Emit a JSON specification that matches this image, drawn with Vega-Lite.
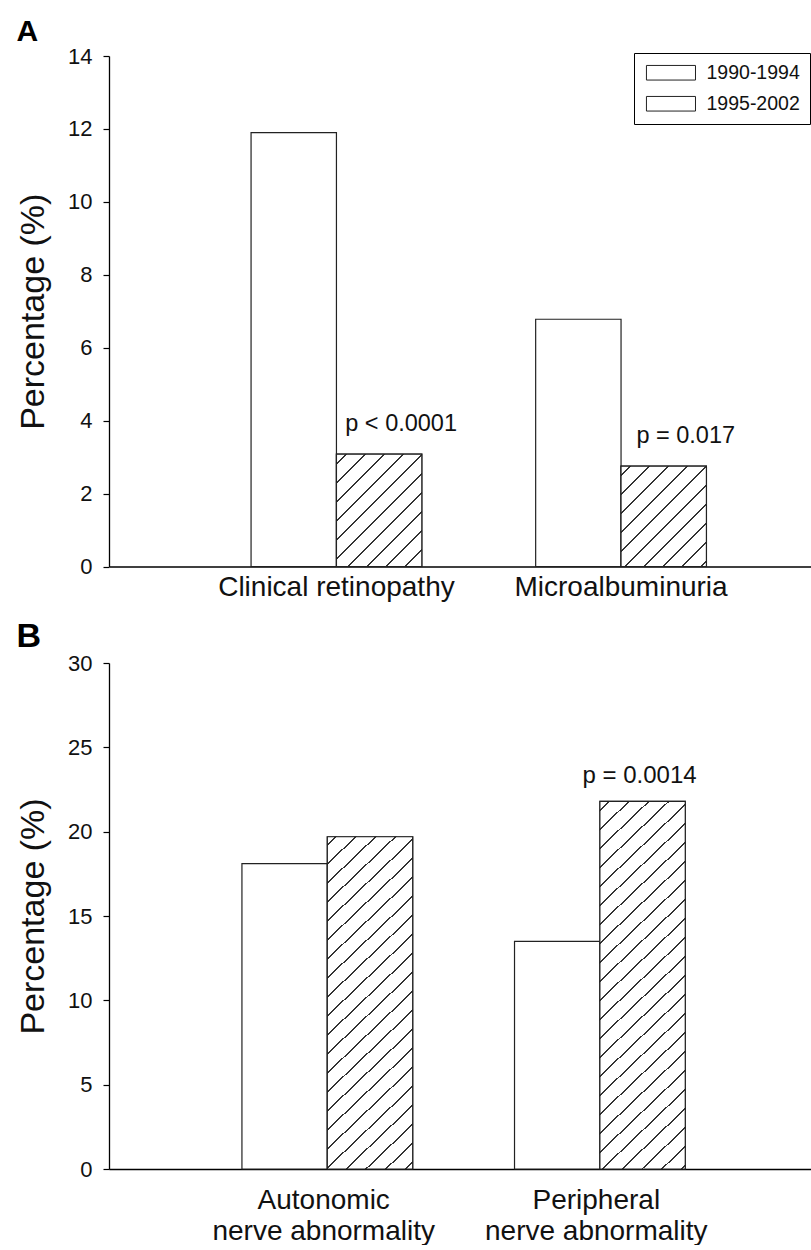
{
  "$schema": "https://vega.github.io/schema/vega-lite/v6.json",
  "padding": {"left": 16, "top": 17, "right": 0, "bottom": 0},
  "background": "white",
  "spacing": 18,
  "config": {"view": {"stroke": null}, "font": "Liberation Sans"},
  "datasets": {
    "a": [
      {"group": "Clinical retinopathy", "period": "1990-1994", "value": 11.9},
      {"group": "Clinical retinopathy", "period": "1995-2002", "value": 3.08, "p": "p < 0.0001"},
      {"group": "Microalbuminuria", "period": "1990-1994", "value": 6.78},
      {"group": "Microalbuminuria", "period": "1995-2002", "value": 2.75, "p": "p = 0.017"}
    ],
    "b": [
      {"group": "Autonomic nerve abnormality", "period": "1990-1994", "value": 18.1},
      {"group": "Autonomic nerve abnormality", "period": "1995-2002", "value": 19.7},
      {"group": "Peripheral nerve abnormality", "period": "1990-1994", "value": 13.5},
      {"group": "Peripheral nerve abnormality", "period": "1995-2002", "value": 21.8, "p": "p = 0.0014"}
    ]
  },
  "vconcat": [
    {
      "data": {"name": "a"},
      "width": 702,
      "height": 510.5,
      "title": {"text": "A", "anchor": "start", "frame": "bounds", "fontSize": 30, "fontWeight": "bold", "offset": -2, "color": "black"},
      "encoding": {
        "x": {"field": "group", "type": "nominal", "scale": {"paddingInner": 0.4, "paddingOuter": 0.4333, "align": 0.576},
          "axis": {"title": null, "ticks": false, "tickSize": 0, "labelAngle": 0, "labelFontSize": 28, "labelPadding": 7, "labelLimit": 0, "domainColor": "black", "domainWidth": 1.3, "labelColor": "#111"}},
        "xOffset": {"field": "period", "type": "nominal", "scale": {"paddingInner": 0, "paddingOuter": 0}},
        "y": {"field": "value", "type": "quantitative", "scale": {"domain": [0, 14], "nice": false},
          "axis": {"title": "Percentage (%)", "values": [0, 2, 4, 6, 8, 10, 12, 14], "grid": false, "tickSize": 6, "tickWidth": 1.2, "tickColor": "black", "domainColor": "black", "domainWidth": 1.3, "labelFontSize": 22, "labelPadding": 11, "labelColor": "#111", "titleFontSize": 34, "titleFontWeight": "normal", "titlePadding": 17, "titleColor": "#111"}}
      },
      "layer": [
        {
          "mark": {"type": "bar", "stroke": "#222", "strokeWidth": 1.2},
          "encoding": {
            "fill": {"field": "period", "type": "nominal", "scale": {"domain": ["1990-1994", "1995-2002"], "range": ["white", "white"]},
              "legend": {"title": null, "orient": "none", "legendX": 525, "legendY": -3, "direction": "vertical", "strokeColor": "black", "fillColor": "white", "padding": 10,
                "symbolType": "M-1,-1H5.72V1H-1Z", "symbolSize": 213, "symbolStrokeColor": "#222", "symbolStrokeWidth": 1, "labelFontSize": 19.5, "labelOffset": 43, "rowPadding": 10, "labelColor": "#111"}
            }
          }
        },
        {
          "transform": [{"filter": "datum.group === 'Clinical retinopathy' && datum.period === '1995-2002'"}],
          "mark": {"type": "bar", "stroke": "#222", "strokeWidth": 1.2, "fill": {"gradient": "linear", "x1": 0, "y1": 0, "x2": 0.848, "y2": 1.115, "stops": [
            {"offset": 0.045, "color": "white"}, {"offset": 0.045, "color": "#333"}, {"offset": 0.055, "color": "#333"}, {"offset": 0.055, "color": "white"},
            {"offset": 0.141, "color": "white"}, {"offset": 0.141, "color": "#333"}, {"offset": 0.151, "color": "#333"}, {"offset": 0.151, "color": "white"},
            {"offset": 0.237, "color": "white"}, {"offset": 0.237, "color": "#333"}, {"offset": 0.247, "color": "#333"}, {"offset": 0.247, "color": "white"},
            {"offset": 0.333, "color": "white"}, {"offset": 0.333, "color": "#333"}, {"offset": 0.343, "color": "#333"}, {"offset": 0.343, "color": "white"},
            {"offset": 0.429, "color": "white"}, {"offset": 0.429, "color": "#333"}, {"offset": 0.439, "color": "#333"}, {"offset": 0.439, "color": "white"},
            {"offset": 0.526, "color": "white"}, {"offset": 0.526, "color": "#333"}, {"offset": 0.536, "color": "#333"}, {"offset": 0.536, "color": "white"},
            {"offset": 0.622, "color": "white"}, {"offset": 0.622, "color": "#333"}, {"offset": 0.632, "color": "#333"}, {"offset": 0.632, "color": "white"},
            {"offset": 0.718, "color": "white"}, {"offset": 0.718, "color": "#333"}, {"offset": 0.728, "color": "#333"}, {"offset": 0.728, "color": "white"},
            {"offset": 0.814, "color": "white"}, {"offset": 0.814, "color": "#333"}, {"offset": 0.824, "color": "#333"}, {"offset": 0.824, "color": "white"},
            {"offset": 0.910, "color": "white"}, {"offset": 0.910, "color": "#333"}, {"offset": 0.920, "color": "#333"}, {"offset": 0.920, "color": "white"}
          ]}}
        },
        {
          "transform": [{"filter": "datum.group === 'Microalbuminuria' && datum.period === '1995-2002'"}],
          "mark": {"type": "bar", "stroke": "#222", "strokeWidth": 1.2, "fill": {"gradient": "linear", "x1": 0, "y1": 0, "x2": 0.914, "y2": 1.073, "stops": [
            {"offset": 0.045, "color": "white"}, {"offset": 0.045, "color": "#333"}, {"offset": 0.055, "color": "#333"}, {"offset": 0.055, "color": "white"},
            {"offset": 0.147, "color": "white"}, {"offset": 0.147, "color": "#333"}, {"offset": 0.157, "color": "#333"}, {"offset": 0.157, "color": "white"},
            {"offset": 0.250, "color": "white"}, {"offset": 0.250, "color": "#333"}, {"offset": 0.260, "color": "#333"}, {"offset": 0.260, "color": "white"},
            {"offset": 0.352, "color": "white"}, {"offset": 0.352, "color": "#333"}, {"offset": 0.362, "color": "#333"}, {"offset": 0.362, "color": "white"},
            {"offset": 0.454, "color": "white"}, {"offset": 0.454, "color": "#333"}, {"offset": 0.464, "color": "#333"}, {"offset": 0.464, "color": "white"},
            {"offset": 0.557, "color": "white"}, {"offset": 0.557, "color": "#333"}, {"offset": 0.567, "color": "#333"}, {"offset": 0.567, "color": "white"},
            {"offset": 0.659, "color": "white"}, {"offset": 0.659, "color": "#333"}, {"offset": 0.669, "color": "#333"}, {"offset": 0.669, "color": "white"},
            {"offset": 0.761, "color": "white"}, {"offset": 0.761, "color": "#333"}, {"offset": 0.771, "color": "#333"}, {"offset": 0.771, "color": "white"},
            {"offset": 0.863, "color": "white"}, {"offset": 0.863, "color": "#333"}, {"offset": 0.873, "color": "#333"}, {"offset": 0.873, "color": "white"},
            {"offset": 0.966, "color": "white"}, {"offset": 0.966, "color": "#333"}, {"offset": 0.976, "color": "#333"}, {"offset": 0.976, "color": "white"}
          ]}}
        },
        {
          "transform": [{"filter": "isValid(datum.p)"}],
          "mark": {"type": "text", "dx": 22, "dy": -23, "fontSize": 23.5, "align": "center", "baseline": "alphabetic", "color": "#111"},
          "encoding": {"text": {"field": "p"}}
        }
      ]
    },
    {
      "data": {"name": "b"},
      "width": 702,
      "height": 506,
      "title": {"text": "B", "anchor": "start", "frame": "bounds", "fontSize": 34, "fontWeight": "bold", "offset": -2, "color": "black"},
      "encoding": {
        "x": {"field": "group", "type": "nominal", "scale": {"paddingInner": 0.4, "paddingOuter": 0.4877, "align": 0.5},
          "axis": {"title": null, "ticks": false, "tickSize": 0, "labelAngle": 0, "labelFontSize": 28, "labelPadding": 17, "labelLimit": 0, "labelLineHeight": 31, "domainColor": "black", "domainWidth": 1.3, "labelColor": "#111",
            "labelExpr": "[slice(datum.label, 0, indexof(datum.label, ' ')), slice(datum.label, indexof(datum.label, ' ') + 1)]"}},
        "xOffset": {"field": "period", "type": "nominal", "scale": {"paddingInner": 0, "paddingOuter": 0}},
        "y": {"field": "value", "type": "quantitative", "scale": {"domain": [0, 30], "nice": false},
          "axis": {"title": "Percentage (%)", "values": [0, 5, 10, 15, 20, 25, 30], "grid": false, "tickSize": 6, "tickWidth": 1.2, "tickColor": "black", "domainColor": "black", "domainWidth": 1.3, "labelFontSize": 22, "labelPadding": 11, "labelColor": "#111", "titleFontSize": 34, "titleFontWeight": "normal", "titlePadding": 17, "titleColor": "#111"}}
      },
      "layer": [
        {
          "mark": {"type": "bar", "stroke": "#222", "strokeWidth": 1.2, "fill": "white"}
        },
        {
          "transform": [{"filter": "datum.group === 'Autonomic nerve abnormality' && datum.period === '1995-2002'"}],
          "mark": {"type": "bar", "stroke": "#222", "strokeWidth": 1.2, "fill": {"gradient": "linear", "x1": 0, "y1": 0, "x2": 0.2892, "y2": 1.175, "stops": [
            {"offset": 0.0177, "color": "white"}, {"offset": 0.0177, "color": "#333"}, {"offset": 0.0223, "color": "#333"}, {"offset": 0.0223, "color": "white"},
            {"offset": 0.0636, "color": "white"}, {"offset": 0.0636, "color": "#333"}, {"offset": 0.0682, "color": "#333"}, {"offset": 0.0682, "color": "white"},
            {"offset": 0.1095, "color": "white"}, {"offset": 0.1095, "color": "#333"}, {"offset": 0.1141, "color": "#333"}, {"offset": 0.1141, "color": "white"},
            {"offset": 0.1553, "color": "white"}, {"offset": 0.1553, "color": "#333"}, {"offset": 0.1599, "color": "#333"}, {"offset": 0.1599, "color": "white"},
            {"offset": 0.2012, "color": "white"}, {"offset": 0.2012, "color": "#333"}, {"offset": 0.2058, "color": "#333"}, {"offset": 0.2058, "color": "white"},
            {"offset": 0.2471, "color": "white"}, {"offset": 0.2471, "color": "#333"}, {"offset": 0.2517, "color": "#333"}, {"offset": 0.2517, "color": "white"},
            {"offset": 0.2930, "color": "white"}, {"offset": 0.2930, "color": "#333"}, {"offset": 0.2976, "color": "#333"}, {"offset": 0.2976, "color": "white"},
            {"offset": 0.3389, "color": "white"}, {"offset": 0.3389, "color": "#333"}, {"offset": 0.3435, "color": "#333"}, {"offset": 0.3435, "color": "white"},
            {"offset": 0.3847, "color": "white"}, {"offset": 0.3847, "color": "#333"}, {"offset": 0.3893, "color": "#333"}, {"offset": 0.3893, "color": "white"},
            {"offset": 0.4306, "color": "white"}, {"offset": 0.4306, "color": "#333"}, {"offset": 0.4352, "color": "#333"}, {"offset": 0.4352, "color": "white"},
            {"offset": 0.4765, "color": "white"}, {"offset": 0.4765, "color": "#333"}, {"offset": 0.4811, "color": "#333"}, {"offset": 0.4811, "color": "white"},
            {"offset": 0.5224, "color": "white"}, {"offset": 0.5224, "color": "#333"}, {"offset": 0.5270, "color": "#333"}, {"offset": 0.5270, "color": "white"},
            {"offset": 0.5683, "color": "white"}, {"offset": 0.5683, "color": "#333"}, {"offset": 0.5729, "color": "#333"}, {"offset": 0.5729, "color": "white"},
            {"offset": 0.6141, "color": "white"}, {"offset": 0.6141, "color": "#333"}, {"offset": 0.6187, "color": "#333"}, {"offset": 0.6187, "color": "white"},
            {"offset": 0.6600, "color": "white"}, {"offset": 0.6600, "color": "#333"}, {"offset": 0.6646, "color": "#333"}, {"offset": 0.6646, "color": "white"},
            {"offset": 0.7059, "color": "white"}, {"offset": 0.7059, "color": "#333"}, {"offset": 0.7105, "color": "#333"}, {"offset": 0.7105, "color": "white"},
            {"offset": 0.7518, "color": "white"}, {"offset": 0.7518, "color": "#333"}, {"offset": 0.7564, "color": "#333"}, {"offset": 0.7564, "color": "white"},
            {"offset": 0.7977, "color": "white"}, {"offset": 0.7977, "color": "#333"}, {"offset": 0.8023, "color": "#333"}, {"offset": 0.8023, "color": "white"},
            {"offset": 0.8435, "color": "white"}, {"offset": 0.8435, "color": "#333"}, {"offset": 0.8481, "color": "#333"}, {"offset": 0.8481, "color": "white"},
            {"offset": 0.8894, "color": "white"}, {"offset": 0.8894, "color": "#333"}, {"offset": 0.8940, "color": "#333"}, {"offset": 0.8940, "color": "white"},
            {"offset": 0.9353, "color": "white"}, {"offset": 0.9353, "color": "#333"}, {"offset": 0.9399, "color": "#333"}, {"offset": 0.9399, "color": "white"},
            {"offset": 0.9812, "color": "white"}, {"offset": 0.9812, "color": "#333"}, {"offset": 0.9858, "color": "#333"}, {"offset": 0.9858, "color": "white"}
          ]}}
        },
        {
          "transform": [{"filter": "datum.group === 'Peripheral nerve abnormality' && datum.period === '1995-2002'"}],
          "mark": {"type": "bar", "stroke": "#222", "strokeWidth": 1.2, "fill": {"gradient": "linear", "x1": 0, "y1": 0, "x2": 0.2591, "y2": 1.1648, "stops": [
            {"offset": 0.0179, "color": "white"}, {"offset": 0.0179, "color": "#333"}, {"offset": 0.0221, "color": "#333"}, {"offset": 0.0221, "color": "white"},
            {"offset": 0.0602, "color": "white"}, {"offset": 0.0602, "color": "#333"}, {"offset": 0.0644, "color": "#333"}, {"offset": 0.0644, "color": "white"},
            {"offset": 0.1024, "color": "white"}, {"offset": 0.1024, "color": "#333"}, {"offset": 0.1066, "color": "#333"}, {"offset": 0.1066, "color": "white"},
            {"offset": 0.1447, "color": "white"}, {"offset": 0.1447, "color": "#333"}, {"offset": 0.1489, "color": "#333"}, {"offset": 0.1489, "color": "white"},
            {"offset": 0.1870, "color": "white"}, {"offset": 0.1870, "color": "#333"}, {"offset": 0.1912, "color": "#333"}, {"offset": 0.1912, "color": "white"},
            {"offset": 0.2293, "color": "white"}, {"offset": 0.2293, "color": "#333"}, {"offset": 0.2335, "color": "#333"}, {"offset": 0.2335, "color": "white"},
            {"offset": 0.2715, "color": "white"}, {"offset": 0.2715, "color": "#333"}, {"offset": 0.2757, "color": "#333"}, {"offset": 0.2757, "color": "white"},
            {"offset": 0.3138, "color": "white"}, {"offset": 0.3138, "color": "#333"}, {"offset": 0.3180, "color": "#333"}, {"offset": 0.3180, "color": "white"},
            {"offset": 0.3561, "color": "white"}, {"offset": 0.3561, "color": "#333"}, {"offset": 0.3603, "color": "#333"}, {"offset": 0.3603, "color": "white"},
            {"offset": 0.3983, "color": "white"}, {"offset": 0.3983, "color": "#333"}, {"offset": 0.4025, "color": "#333"}, {"offset": 0.4025, "color": "white"},
            {"offset": 0.4406, "color": "white"}, {"offset": 0.4406, "color": "#333"}, {"offset": 0.4448, "color": "#333"}, {"offset": 0.4448, "color": "white"},
            {"offset": 0.4829, "color": "white"}, {"offset": 0.4829, "color": "#333"}, {"offset": 0.4871, "color": "#333"}, {"offset": 0.4871, "color": "white"},
            {"offset": 0.5251, "color": "white"}, {"offset": 0.5251, "color": "#333"}, {"offset": 0.5293, "color": "#333"}, {"offset": 0.5293, "color": "white"},
            {"offset": 0.5674, "color": "white"}, {"offset": 0.5674, "color": "#333"}, {"offset": 0.5716, "color": "#333"}, {"offset": 0.5716, "color": "white"},
            {"offset": 0.6097, "color": "white"}, {"offset": 0.6097, "color": "#333"}, {"offset": 0.6139, "color": "#333"}, {"offset": 0.6139, "color": "white"},
            {"offset": 0.6520, "color": "white"}, {"offset": 0.6520, "color": "#333"}, {"offset": 0.6562, "color": "#333"}, {"offset": 0.6562, "color": "white"},
            {"offset": 0.6942, "color": "white"}, {"offset": 0.6942, "color": "#333"}, {"offset": 0.6984, "color": "#333"}, {"offset": 0.6984, "color": "white"},
            {"offset": 0.7365, "color": "white"}, {"offset": 0.7365, "color": "#333"}, {"offset": 0.7407, "color": "#333"}, {"offset": 0.7407, "color": "white"},
            {"offset": 0.7788, "color": "white"}, {"offset": 0.7788, "color": "#333"}, {"offset": 0.7830, "color": "#333"}, {"offset": 0.7830, "color": "white"},
            {"offset": 0.8210, "color": "white"}, {"offset": 0.8210, "color": "#333"}, {"offset": 0.8252, "color": "#333"}, {"offset": 0.8252, "color": "white"},
            {"offset": 0.8633, "color": "white"}, {"offset": 0.8633, "color": "#333"}, {"offset": 0.8675, "color": "#333"}, {"offset": 0.8675, "color": "white"},
            {"offset": 0.9056, "color": "white"}, {"offset": 0.9056, "color": "#333"}, {"offset": 0.9098, "color": "#333"}, {"offset": 0.9098, "color": "white"},
            {"offset": 0.9478, "color": "white"}, {"offset": 0.9478, "color": "#333"}, {"offset": 0.9520, "color": "#333"}, {"offset": 0.9520, "color": "white"},
            {"offset": 0.9901, "color": "white"}, {"offset": 0.9901, "color": "#333"}, {"offset": 0.9943, "color": "#333"}, {"offset": 0.9943, "color": "white"}
          ]}}
        },
        {
          "transform": [{"filter": "isValid(datum.p)"}],
          "mark": {"type": "text", "dx": -3, "dy": -18, "fontSize": 24, "align": "center", "baseline": "alphabetic", "color": "#111"},
          "encoding": {"text": {"field": "p"}}
        }
      ]
    }
  ]
}
